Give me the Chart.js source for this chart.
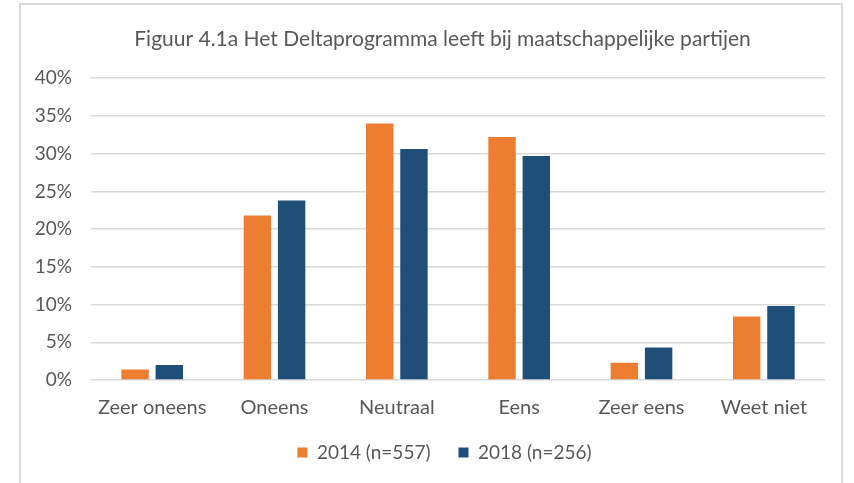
<!DOCTYPE html>
<html>
<head>
<meta charset="utf-8">
<script src="https://cdn.jsdelivr.net/npm/chart.js@4"></script>
<style>
  html, body { margin: 0; padding: 0; background: #fff; overflow: hidden; }
  #wrap { position: relative; width: 854px; height: 483px; }
  #frame { position: absolute; left: 19px; top: 3px; width: 824px; height: 500px; border: 2px solid #d9d9d9; box-sizing: border-box; }
  #deltaChart { position: absolute; left: 0; top: 0; }
</style>
</head>
<body>
<div id="wrap">
  <div id="frame"></div>
  <canvas id="deltaChart" width="854" height="483"></canvas>
</div>
<script>
// chart data
const categories = ['Zeer oneens', 'Oneens', 'Neutraal', 'Eens', 'Zeer eens', 'Weet niet'];
const values2014 = [1.4, 21.8, 34.0, 32.2, 2.3, 8.4];
const values2018 = [2.0, 23.8, 30.6, 29.7, 4.3, 9.8];
const seriesLabels = ['2014 (n=557)', '2018 (n=256)'];
const yTicks = [0, 5, 10, 15, 20, 25, 30, 35, 40];

const textColor = '#595959';
const fontFamily = 'Lato, "Liberation Sans", sans-serif';

// title and legend sit a bit right of the plot centre in the original
const shiftBlocks = {
    id: 'shiftBlocks',
    afterLayout(chart) {
        chart.titleBlock.left += 20;
        chart.titleBlock.right += 20;
        chart.legend.left += 22;
        chart.legend.right += 22;
    }
};

const ctx = document.getElementById('deltaChart').getContext('2d');

const deltaChart = new Chart(ctx, {
    type: 'bar',
    data: {
        labels: categories,
        datasets: [{
            label: seriesLabels[0],
            data: values2014,
            backgroundColor: '#ED7D31',
            categoryPercentage: 0.56,
            barPercentage: 0.8
        }, {
            label: seriesLabels[1],
            data: values2018,
            backgroundColor: '#1F4E79',
            categoryPercentage: 0.56,
            barPercentage: 0.8
        }]
    },
    options: {
        responsive: false,
        animation: false,
        layout: {
            padding: { left: 20, right: 29, top: 0, bottom: 11 }
        },
        plugins: {
            title: {
                display: true,
                text: 'Figuur 4.1a Het Deltaprogramma leeft bij maatschappelijke partijen',
                color: textColor,
                font: { family: fontFamily, size: 21, weight: 'normal' },
                padding: { top: 27, bottom: 26 }
            },
            legend: {
                position: 'bottom',
                labels: {
                    color: textColor,
                    font: { family: fontFamily, size: 19 },
                    boxWidth: 10,
                    boxHeight: 10,
                    padding: 28
                }
            },
            tooltip: { enabled: false }
        },
        scales: {
            x: {
                grid: { display: false, drawTicks: false },
                border: { display: false },
                ticks: {
                    color: textColor,
                    font: { family: fontFamily, size: 20 },
                    padding: 16,
                    maxRotation: 0
                },
                afterFit: function (scale) {
                    scale.height = 35;
                }
            },
            y: {
                min: 0,
                max: 40,
                afterBuildTicks: function (scale) {
                    scale.ticks = yTicks.map(v => ({ value: v }));
                },
                grid: { color: '#d9d9d9', lineWidth: 1.5, drawTicks: false },
                border: { display: false },
                ticks: {
                    color: textColor,
                    font: { family: fontFamily, size: 19 },
                    padding: 19,
                    callback: function (value) {
                        return value + '%';
                    }
                },
                afterFit: function (scale) {
                    scale.width = 71;
                }
            }
        }
    },
    plugins: [shiftBlocks]
});
</script>
</body>
</html>
